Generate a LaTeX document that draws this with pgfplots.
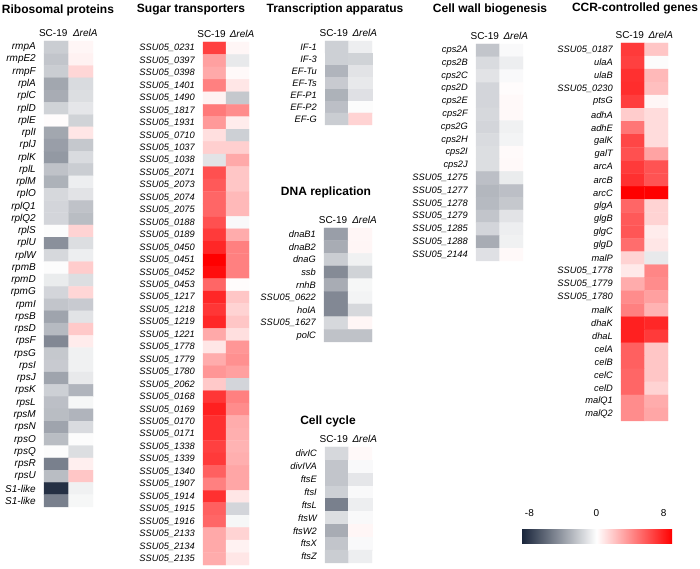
\documentclass[border=0pt]{standalone}
\usepackage{pgfplots}
\pgfplotsset{compat=1.18}
\usepackage{fontspec}
\setmainfont{Liberation Sans}
\pgfplotsset{
  colormap={rb}{rgb255=(22,34,56) rgb255=(255,255,255) rgb255=(255,0,0)},
  panel/.style={
    scale only axis, anchor=north west,
    axis line style={draw=none}, major tick length=0pt, tick style={draw=none},
    xmin=-0.5, xmax=1.5, ymin=-0.5, y dir=reverse,
    xtick=\empty, ytick={0,1,...,45},
    yticklabel style={font=\fontsize{9.3}{10}\selectfont\itshape, inner sep=0pt, anchor=east, xshift=-8pt},
    colormap name=rb, point meta min=-8, point meta max=8, clip=false,
  },
  hm/.style={matrix plot, faceted color=white, line width=0.3pt, mesh/cols=2, point meta=explicit},
}
\newcommand{\heads}{%
  \node[anchor=south, font=\fontsize{10}{12}\selectfont, inner sep=0pt, yshift=4pt, xshift=-3pt] at (axis cs:0,-0.5) {SC-19};
  \node[anchor=south, font=\fontsize{10}{12}\selectfont\itshape, inner sep=0pt, yshift=4pt, xshift=4.5pt] at (axis cs:1,-0.5) {ΔrelA};
}
\begin{document}
\begin{tikzpicture}
\useasboundingbox (0,0) rectangle (700pt,569pt);
\tikzset{ttl/.style={font=\bfseries\fontsize{12}{14}\selectfont}}
\node[ttl] at (58pt,559pt) {Ribosomal proteins};
\node[ttl] at (191pt,559pt) {Sugar transporters};
\node[ttl] at (335pt,560pt) {Transcription apparatus};
\node[ttl] at (326pt,377pt) {DNA replication};
\node[ttl] at (328pt,148pt) {Cell cycle};
\node[ttl] at (490pt,560pt) {Cell wall biogenesis};
\node[ttl] at (635pt,561pt) {CCR-controlled genes};

% Ribosomal proteins
\begin{axis}[panel, at={(44pt,528pt)}, width=49pt, height=466pt, ymax=37.5,
  yticklabel style={font=\fontsize{10}{11}\selectfont\itshape},
  yticklabels={rmpA,rmpE2,rmpF,rplA,rplC,rplD,rplE,rplI,rplJ,rplK,rplL,rplM,rplO,rplQ1,rplQ2,rplS,rplU,rplW,rpmB,rpmD,rpmG,rpmI,rpsB,rpsD,rpsF,rpsG,rpsI,rpsJ,rpsK,rpsL,rpsM,rpsN,rpsO,rpsQ,rpsR,rpsU,S1-like,S1-like}]
\addplot[hm] table[row sep=\\, meta index=2] {
x y c\\
0 0 -1.8\\ 1 0 0.3\\
0 1 -2.1\\ 1 1 0.4\\
0 2 -1.8\\ 1 2 1.3\\
0 3 -3.2\\ 1 3 -1.3\\
0 4 -3.0\\ 1 4 -1.2\\
0 5 -1.6\\ 1 5 -0.9\\
0 6 0.1\\ 1 6 -1.6\\
0 7 -3.2\\ 1 7 0.8\\
0 8 -3.5\\ 1 8 -2.0\\
0 9 -3.7\\ 1 9 -1.3\\
0 10 -2.2\\ 1 10 -1.8\\
0 11 -2.8\\ 1 11 -0.6\\
0 12 -1.4\\ 1 12 -1.0\\
0 13 -1.5\\ 1 13 -2.2\\
0 14 -1.5\\ 1 14 -2.4\\
0 15 -0.1\\ 1 15 1.4\\
0 16 -4.0\\ 1 16 -1.2\\
0 17 -1.4\\ 1 17 -0.6\\
0 18 -0.1\\ 1 18 1.6\\
0 19 -0.7\\ 1 19 -1.2\\
0 20 -1.5\\ 1 20 1.3\\
0 21 -2.1\\ 1 21 -1.9\\
0 22 -3.3\\ 1 22 -1.0\\
0 23 -2.5\\ 1 23 1.7\\
0 24 -4.3\\ 1 24 0.6\\
0 25 -2.0\\ 1 25 -0.5\\
0 26 -1.9\\ 1 26 -0.5\\
0 27 -3.3\\ 1 27 -0.8\\
0 28 -1.7\\ 1 28 -2.7\\
0 29 -2.3\\ 1 29 -0.3\\
0 30 -2.4\\ 1 30 -2.7\\
0 31 -3.3\\ 1 31 -1.3\\
0 32 -2.4\\ 1 32 -0.1\\
0 33 -0.1\\ 1 33 -1.2\\
0 34 -4.6\\ 1 34 0.5\\
0 35 -2.4\\ 1 35 1.8\\
0 36 -7.5\\ 1 36 -0.5\\
0 37 -4.6\\ 1 37 -0.3\\
};
\heads
\end{axis}

% Sugar transporters
\begin{axis}[panel, at={(203pt,527pt)}, width=46pt, height=523pt, ymax=41.5,
  yticklabels={SSU05\_0231,SSU05\_0397,SSU05\_0398,SSU05\_1401,SSU05\_1490,SSU05\_1817,SSU05\_1931,SSU05\_0710,SSU05\_1037,SSU05\_1038,SSU05\_2071,SSU05\_2073,SSU05\_2074,SSU05\_2075,SSU05\_0188,SSU05\_0189,SSU05\_0450,SSU05\_0451,SSU05\_0452,SSU05\_0453,SSU05\_1217,SSU05\_1218,SSU05\_1219,SSU05\_1221,SSU05\_1778,SSU05\_1779,SSU05\_1780,SSU05\_2062,SSU05\_0168,SSU05\_0169,SSU05\_0170,SSU05\_0171,SSU05\_1338,SSU05\_1339,SSU05\_1340,SSU05\_1907,SSU05\_1914,SSU05\_1915,SSU05\_1916,SSU05\_2133,SSU05\_2134,SSU05\_2135}]
\addplot[hm] table[row sep=\\, meta index=2] {
x y c\\
0 0 6.0\\ 1 0 0.3\\
0 1 3.0\\ 1 1 -0.8\\
0 2 2.7\\ 1 2 0.2\\
0 3 4.0\\ 1 3 0.8\\
0 4 0.4\\ 1 4 -2.0\\
0 5 4.2\\ 1 5 3.6\\
0 6 3.2\\ 1 6 0.6\\
0 7 1.0\\ 1 7 -1.7\\
0 8 1.5\\ 1 8 1.5\\
0 9 -1.0\\ 1 9 2.7\\
0 10 5.5\\ 1 10 1.8\\
0 11 5.2\\ 1 11 1.8\\
0 12 4.8\\ 1 12 2.2\\
0 13 4.8\\ 1 13 2.2\\
0 14 5.5\\ 1 14 -0.2\\
0 15 6.2\\ 1 15 2.6\\
0 16 6.8\\ 1 16 4.0\\
0 17 8.0\\ 1 17 4.0\\
0 18 7.6\\ 1 18 4.0\\
0 19 4.8\\ 1 19 0.1\\
0 20 6.8\\ 1 20 1.8\\
0 21 6.3\\ 1 21 1.4\\
0 22 6.8\\ 1 22 1.8\\
0 23 2.7\\ 1 23 1.0\\
0 24 0.8\\ 1 24 3.3\\
0 25 2.6\\ 1 25 3.5\\
0 26 3.3\\ 1 26 3.0\\
0 27 1.7\\ 1 27 -1.5\\
0 28 6.3\\ 1 28 4.0\\
0 29 7.0\\ 1 29 3.6\\
0 30 6.5\\ 1 30 2.6\\
0 31 6.5\\ 1 31 2.5\\
0 32 6.0\\ 1 32 2.4\\
0 33 6.2\\ 1 33 2.5\\
0 34 5.0\\ 1 34 2.8\\
0 35 4.0\\ 1 35 2.8\\
0 36 6.5\\ 1 36 0.8\\
0 37 5.0\\ 1 37 -1.5\\
0 38 4.8\\ 1 38 -0.3\\
0 39 2.7\\ 1 39 1.4\\
0 40 2.7\\ 1 40 0.4\\
0 41 2.6\\ 1 41 0.8\\
};
\heads
\end{axis}

% Transcription apparatus
\begin{axis}[panel, at={(325pt,528pt)}, width=47pt, height=84pt, ymax=6.5,
  yticklabels={IF-1,IF-3,EF-Tu,EF-Ts,EF-P1,EF-P2,EF-G}]
\addplot[hm] table[row sep=\\, meta index=2] {
x y c\\
0 0 -1.7\\ 1 0 -0.6\\
0 1 -1.7\\ 1 1 -1.6\\
0 2 -2.7\\ 1 2 -1.0\\
0 3 -1.9\\ 1 3 -0.8\\
0 4 -2.8\\ 1 4 -1.1\\
0 5 -2.3\\ 1 5 -0.1\\
0 6 -1.8\\ 1 6 1.4\\
};
\heads
\end{axis}

% DNA replication
\begin{axis}[panel, at={(324pt,341pt)}, width=48pt, height=114pt, ymax=8.5,
  yticklabels={dnaB1,dnaB2,dnaG,ssb,rnhB,SSU05\_0622,holA,SSU05\_1627,polC}]
\addplot[hm] table[row sep=\\, meta index=2] {
x y c\\
0 0 -3.5\\ 1 0 0.3\\
0 1 -3.0\\ 1 1 0.3\\
0 2 -1.8\\ 1 2 -0.5\\
0 3 -4.2\\ 1 3 -1.6\\
0 4 -3.0\\ 1 4 -0.3\\
0 5 -4.3\\ 1 5 -0.4\\
0 6 -4.3\\ 1 6 -1.4\\
0 7 -1.4\\ 1 7 0.3\\
0 8 -2.2\\ 1 8 -2.2\\
};
\heads
\end{axis}

% Cell cycle
\begin{axis}[panel, at={(325pt,122pt)}, width=47pt, height=116pt, ymax=8.5,
  yticklabels={divIC,divIVA,ftsE,ftsI,ftsL,ftsW,ftsW2,ftsX,ftsZ}]
\addplot[hm] table[row sep=\\, meta index=2] {
x y c\\
0 0 -1.4\\ 1 0 0.2\\
0 1 -2.1\\ 1 1 -0.2\\
0 2 -2.1\\ 1 2 -0.9\\
0 3 -1.7\\ 1 3 -0.2\\
0 4 -4.6\\ 1 4 -0.6\\
0 5 -1.2\\ 1 5 -0.2\\
0 6 -3.0\\ 1 6 0.3\\
0 7 -2.1\\ 1 7 -0.2\\
0 8 -1.8\\ 1 8 -0.6\\
};
\heads
\end{axis}

% Cell wall biogenesis
\begin{axis}[panel, at={(476pt,525pt)}, width=47pt, height=217pt, ymax=16.5,
  yticklabels={cps2A,cps2B,cps2C,cps2D,cps2E,cps2F,cps2G,cps2H,cps2I,cps2J,SSU05\_1275,SSU05\_1277,SSU05\_1278,SSU05\_1279,SSU05\_1285,SSU05\_1288,SSU05\_2144}]
\addplot[hm] table[row sep=\\, meta index=2] {
x y c\\
0 0 -2.1\\ 1 0 -0.2\\
0 1 -1.3\\ 1 1 -0.6\\
0 2 -1.0\\ 1 2 -0.2\\
0 3 -1.5\\ 1 3 0.1\\
0 4 -1.5\\ 1 4 0.2\\
0 5 -1.4\\ 1 5 0.2\\
0 6 -1.5\\ 1 6 -0.5\\
0 7 -1.3\\ 1 7 -0.4\\
0 8 -1.2\\ 1 8 0.15\\
0 9 -1.2\\ 1 9 0.2\\
0 10 -2.3\\ 1 10 -0.7\\
0 11 -2.6\\ 1 11 -2.3\\
0 12 -2.5\\ 1 12 -2.0\\
0 13 -2.1\\ 1 13 -1.0\\
0 14 -1.5\\ 1 14 -0.6\\
0 15 -3.0\\ 1 15 -0.5\\
0 16 -1.1\\ 1 16 0.2\\
};
\heads
\end{axis}

% CCR-controlled genes
\begin{axis}[panel, at={(621pt,526pt)}, width=47pt, height=378pt, ymax=28.5,
  yticklabels={SSU05\_0187,ulaA,ulaB,SSU05\_0230,ptsG,adhA,adhE,galK,galT,arcA,arcB,arcC,glgA,glgB,glgC,glgD,malP,SSU05\_1778,SSU05\_1779,SSU05\_1780,malK,dhaK,dhaL,celA,celB,celC,celD,malQ1,malQ2}]
\addplot[hm] table[row sep=\\, meta index=2] {
x y c\\
0 0 6.2\\ 1 0 1.8\\
0 1 6.0\\ 1 1 -0.1\\
0 2 6.5\\ 1 2 2.2\\
0 3 6.6\\ 1 3 2.0\\
0 4 6.1\\ 1 4 0.3\\
0 5 1.6\\ 1 5 1.1\\
0 6 4.3\\ 1 6 1.1\\
0 7 5.8\\ 1 7 1.1\\
0 8 5.5\\ 1 8 2.9\\
0 9 6.2\\ 1 9 5.4\\
0 10 6.5\\ 1 10 5.4\\
0 11 8.0\\ 1 11 8.0\\
0 12 4.8\\ 1 12 1.4\\
0 13 5.2\\ 1 13 1.4\\
0 14 5.3\\ 1 14 0.6\\
0 15 4.6\\ 1 15 0.8\\
0 16 1.4\\ 1 16 -0.8\\
0 17 0.7\\ 1 17 3.8\\
0 18 2.6\\ 1 18 3.6\\
0 19 3.6\\ 1 19 3.0\\
0 20 4.0\\ 1 20 2.4\\
0 21 7.0\\ 1 21 6.8\\
0 22 7.0\\ 1 22 6.2\\
0 23 5.0\\ 1 23 1.8\\
0 24 5.0\\ 1 24 1.8\\
0 25 4.8\\ 1 25 1.8\\
0 26 4.8\\ 1 26 1.4\\
0 27 3.6\\ 1 27 2.6\\
0 28 3.6\\ 1 28 2.8\\
};
\heads
\end{axis}

% Colour bar
\begin{axis}[at={(521pt,34pt)}, anchor=south west, scale only axis, width=151pt, height=17pt,
  hide axis, xmin=0, xmax=1, ymin=0, ymax=1,
  colormap name=rb, point meta min=-9, point meta max=9,
  colorbar horizontal,
  colorbar style={at={(parent axis.south west)}, anchor=south west, width=151pt, height=17pt,
    scale only axis, xtick={-8,0,8}, xticklabels={-8,0,8}, xticklabel pos=upper,
    major tick length=0pt, axis line style={draw=none},
    xticklabel style={font=\fontsize{10}{12}\selectfont, yshift=6pt}}]
\addplot[draw=none] coordinates {(0.5,0.5)};
\end{axis}
\end{tikzpicture}
\end{document}
